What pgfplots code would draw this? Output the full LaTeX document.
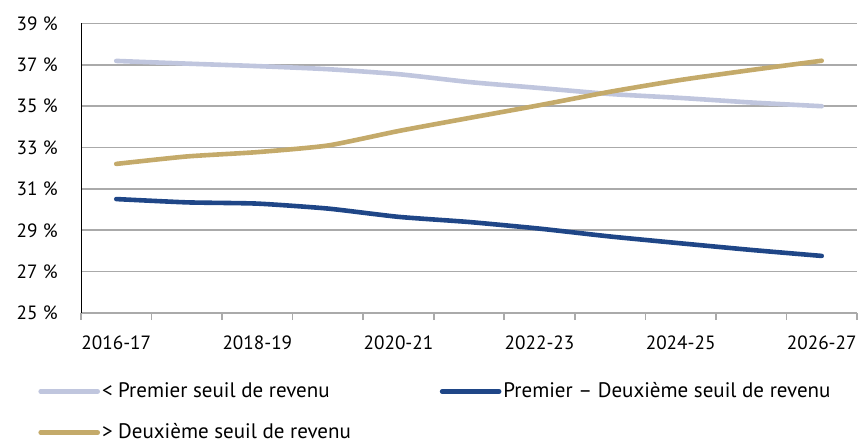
\documentclass[border=0pt]{standalone}
\usepackage{pgfplots}
\pgfplotsset{compat=1.18}
\usepackage{fontspec}
\setmainfont{PT Sans}
\usetikzlibrary{calc}
\definecolor{lightc}{RGB}{192,198,222}
\definecolor{darkc}{RGB}{31,70,135}
\definecolor{goldc}{RGB}{196,170,106}
\definecolor{gridc}{RGB}{170,170,170}
\begin{document}
\begin{tikzpicture}
\fontsize{10bp}{12bp}\selectfont
\begin{axis}[
  scale only axis,
  width=388bp, height=144.75bp,
  xmin=-0.5, xmax=10.5, ymin=25, ymax=39,
  axis y line*=none, axis x line*=bottom,
  x axis line style={draw=gridc, line width=0.8bp, -},
  xtick={0,2,4,6,8,10},
  xticklabels={2016-17,2018-19,2020-21,2022-23,2024-25,2026-27},
  minor xtick={-0.5,0.5,...,10.5},
  major tick length=0pt,
  minor tick length=3.5bp,
  tick align=outside,
  minor tick style={draw=gridc, line width=0.8bp},
  ytick={25,27,...,39},
  ytick style={draw=none},
  ymajorgrids,
  major grid style={draw=gridc, line width=0.8bp},
  yticklabel={\pgfmathparse{int(\tick)}\pgfmathresult~\%},
  yticklabel style={inner sep=0pt, xshift=-11.5bp},
  xticklabel style={inner sep=0pt, yshift=-11bp},
  tick label style={font=\fontsize{9.6bp}{12bp}\selectfont},
  clip=false,
  legend columns=2,
  legend style={at={(-0.0554,-0.2245)}, anchor=north west, draw=none, inner sep=0pt,
    font=\fontsize{10.5bp}{12bp}\selectfont,
    nodes={inner xsep=1bp},
    /tikz/every even column/.append style={column sep=43.5bp},
    row sep=7.5bp},
  legend cell align=left,
  legend image code/.code={\draw[#1, line width=2.3bp] (0bp,0bp) -- (28.5bp,0bp);},
  every axis plot/.append style={line width=2.3bp, line join=round, line cap=round, smooth, tension=0.35},
]
\addplot[color=lightc] coordinates {(0,37.19) (1,37.06) (2,36.94) (3,36.79) (4,36.55) (5,36.17) (6,35.88) (7,35.59) (8,35.40) (9,35.18) (10,35.00)};
\addlegendentry{< Premier seuil de revenu}
\addplot[color=darkc] coordinates {(0,30.51) (1,30.35) (2,30.29) (3,30.05) (4,29.65) (5,29.40) (6,29.08) (7,28.70) (8,28.37) (9,28.05) (10,27.76)};
\addlegendentry{Premier – Deuxième seuil de revenu}
\addplot[color=goldc] coordinates {(0,32.21) (1,32.57) (2,32.78) (3,33.10) (4,33.80) (5,34.43) (6,35.05) (7,35.70) (8,36.27) (9,36.75) (10,37.20)};
\addlegendentry{> Deuxième seuil de revenu}
\end{axis}
\pgfresetboundingbox
\path ($(current axis.south west)+(-40.5bp,-65bp)$) rectangle ($(current axis.north east)+(2.5bp,11.75bp)$);
\end{tikzpicture}
\end{document}
